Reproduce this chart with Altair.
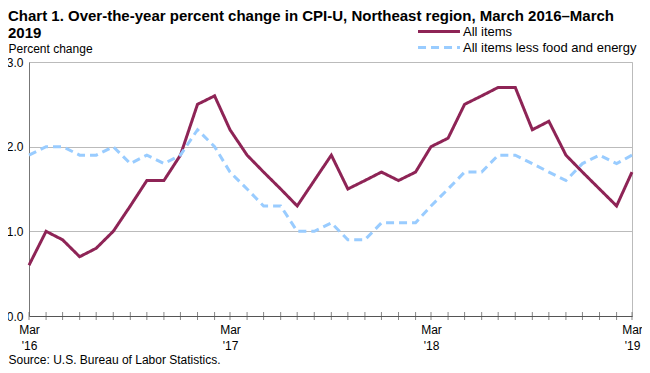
import altair as alt
import pandas as pd

months = pd.date_range("2016-03-01", "2019-03-01", freq="MS").strftime("%Y-%m-%d").tolist()
all_items = [0.6, 1.0, 0.9, 0.7, 0.8, 1.0, 1.3, 1.6, 1.6, 1.9, 2.5, 2.6,
             2.2, 1.9, 1.7, 1.5, 1.3, 1.6, 1.9, 1.5, 1.6, 1.7, 1.6, 1.7,
             2.0, 2.1, 2.5, 2.6, 2.7, 2.7, 2.2, 2.3, 1.9, 1.7, 1.5, 1.3, 1.7]
core = [1.9, 2.0, 2.0, 1.9, 1.9, 2.0, 1.8, 1.9, 1.8, 1.9, 2.2, 2.0,
        1.7, 1.5, 1.3, 1.3, 1.0, 1.0, 1.1, 0.9, 0.9, 1.1, 1.1, 1.1,
        1.3, 1.5, 1.7, 1.7, 1.9, 1.9, 1.8, 1.7, 1.6, 1.8, 1.9, 1.8, 1.9]
series_names = ["All items", "All items less food and energy"]
series_colors = ["#8E2456", "#99CCFF"]
y_ticks = [0, 1, 2, 3]

df = pd.concat([
    pd.DataFrame({"date": months, "value": all_items, "series": series_names[0]}),
    pd.DataFrame({"date": months, "value": core, "series": series_names[1]}),
])
ticks_df = pd.DataFrame({"date": months, "zero": 0})

FONT = "Liberation Sans"
tick_ms = [int(pd.Timestamp(m, tz="UTC").timestamp() * 1000) for m in months]

label_expr = (
    "utcmonth(datum.value) == 2 ? [utcFormat(datum.value, '%b'), \"'\" + utcFormat(datum.value, '%y')] : "
    "(utcmonth(datum.value) % 3 == 2 ? utcFormat(datum.value, '%b') : '')"
)

x_enc = alt.X(
    "date:T",
    scale=alt.Scale(type="utc", domain=[tick_ms[0], tick_ms[-1]], nice=False),
    axis=alt.Axis(
        values=tick_ms, labelExpr=label_expr, ticks=False, grid=False,
        domainColor="#555555", labelFont=FONT, labelFontSize=12, labelColor="#000000",
        labelPadding=8, labelOverlap=False, labelFlush=False, labelLineHeight=16,
        title="Source: U.S. Bureau of Labor Statistics.", titleFont=FONT, titleFontSize=12,
        titleFontWeight="normal", titleAnchor="start", titleAlign="left", titleX=-21,
        titleY=43, titleBaseline="middle", titleColor="#000000",
    ),
)

lines = alt.Chart(df).mark_line(strokeWidth=3).encode(
    x=x_enc,
    y=alt.Y(
        "value:Q",
        scale=alt.Scale(domain=[0, 3], nice=False),
        axis=alt.Axis(
            values=y_ticks, format=".1f", ticks=False, gridColor="#BBBBBB",
            domainColor="#777777", labelFont=FONT, labelFontSize=12, labelColor="#000000",
            labelPadding=6, title="Percent change", titleAngle=0, titleAlign="left",
            titleFont=FONT, titleFontSize=12, titleFontWeight="normal", titleX=-21,
            titleY=-7, titleBaseline="bottom", titleColor="#000000",
        ),
    ),
    color=alt.Color(
        "series:N",
        scale=alt.Scale(domain=series_names, range=series_colors),
        legend=alt.Legend(
            title=None, orient="none", legendX=403, legendY=-37.5,
            symbolType="M-4,0L4,0", symbolSize=110, symbolStrokeWidth=3,
            labelFont=FONT, labelFontSize=13, labelColor="#000000",
            rowPadding=2, labelOffset=17, labelLimit=400,
        ),
    ),
    strokeDash=alt.StrokeDash(
        "series:N",
        scale=alt.Scale(domain=series_names, range=[[1, 0], [8, 5]]),
        legend=None,
    ),
)

tick_marks = alt.Chart(ticks_df).mark_tick(orient="vertical", size=8, thickness=1, color="#555555").encode(
    x="date:T",
    y="zero:Q",
)

chart = alt.layer(lines, tick_marks).properties(
    width=603,
    height=254,
    autosize=alt.AutoSizeParams(type="none"),
    padding={"left": 21, "top": 54, "right": 10, "bottom": 49},
    title=alt.TitleParams(
        ["Chart 1. Over-the-year percent change in CPI-U, Northeast region, March 2016–March", "2019"],
        anchor="start", frame="group", dx=-21, offset=0, dy=16, font=FONT, fontSize=15,
        fontWeight="bold", color="#000000", lineHeight=17,
    ),
).configure_view(stroke="#BBBBBB", strokeWidth=1)

chart.save("out.html", embed_options={"renderer": "svg", "actions": False})
